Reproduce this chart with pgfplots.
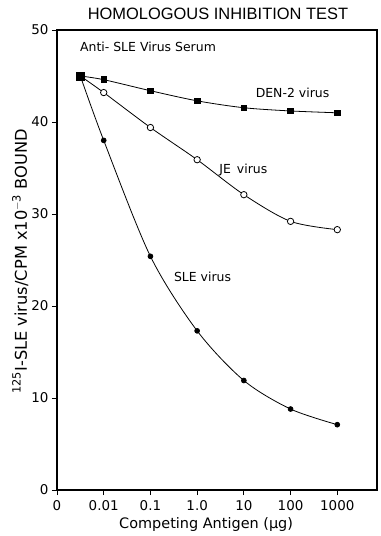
\documentclass[border=0pt]{standalone}
\usepackage{fontspec}
\setmainfont{DejaVu Sans}
\newfontfamily\titlefont{Liberation Sans}
\usepackage{pgfplots}
\pgfplotsset{compat=1.18}

% x positions are log10 of the antigen amount; -3 stands for "0"
\pgfplotstableread{
x     y
-2.5  45.0
-2    44.6
-1    43.4
0     42.3
1     41.55
2     41.2
3     41.0
}\denvirus

\pgfplotstableread{
x     y
-2.5  45.0
-2    43.2
-1    39.4
0     35.9
1     32.1
2     29.2
3     28.3
}\jevirus

\pgfplotstableread{
x     y
-2.5  45.0
-2    38.0
-1    25.4
0     17.3
1     11.9
2     8.8
3     7.1
}\slevirus

\begin{document}
\begin{tikzpicture}
\begin{axis}[
  name=ax,
  scale only axis,
  width=320bp, height=460bp,
  xmin=-3, xmax=3.85, ymin=0, ymax=50,
  xtick={-3,-2,-1,0,1,2,3},
  xticklabels={0,0.01,0.1,1.0,10,100,1000},
  ytick={0,10,20,30,40,50},
  xtick pos=bottom, ytick pos=left,
  tick align=outside,
  major tick length=5bp,
  tick style={line width=0.9pt, black},
  axis line style={line width=1.3pt},
  /pgf/number format/assume math mode=true,
  ticklabel style={font=\fontsize{13.5}{15}\selectfont},
  xticklabel style={yshift=-1.5bp},
  yticklabel style={xshift=0bp},
  clip=false,
]
\addplot[black, line width=0.8pt, smooth, mark=*, mark size=3.2bp,
  mark options={fill=white, line width=0.8pt}] table {\jevirus};
\addplot[black, line width=0.8pt, smooth, mark=*, mark size=2.4bp] table {\slevirus};
\addplot[black, line width=0.8pt, smooth, mark=square*, mark size=2.8bp] table {\denvirus};
% shared starting point of all three curves
\addplot[only marks, mark=square*, mark size=3.8bp] coordinates {(-2.5,45)};

\node[anchor=west, font=\fontsize{12.5}{15}\selectfont] at (axis cs:-2.58,48.2) {Anti- SLE Virus Serum};
\node[anchor=west, font=\fontsize{12.5}{15}\selectfont] at (axis cs:1.18,43.2) {DEN-2 virus};
\node[anchor=west, font=\fontsize{12.5}{15}\selectfont] at (axis cs:0.40,34.8) {JE\ \,virus};
\node[anchor=west, font=\fontsize{12.5}{15}\selectfont] at (axis cs:-0.57,23.15) {SLE virus};

\node[font=\titlefont\fontsize{16.5}{18}\selectfont] at (axis description cs:0.503,1.035) {HOMOLOGOUS INHIBITION TEST};
\node[font=\fontsize{14.5}{16}\selectfont] at (axis description cs:0.466,-0.076) {Competing Antigen (µg)};
\node[rotate=90, font=\fontsize{16.3}{18}\selectfont] at (axis description cs:-0.115,0.497)
  {\textsuperscript{125}I-SLE virus/CPM x10\textsuperscript{$-$3} BOUND};
\end{axis}
\pgfresetboundingbox
\path[use as bounding box] ([shift={(-57bp,-46bp)}]ax.south west) rectangle ([shift={(4bp,30bp)}]ax.north east);
\end{tikzpicture}
\end{document}
